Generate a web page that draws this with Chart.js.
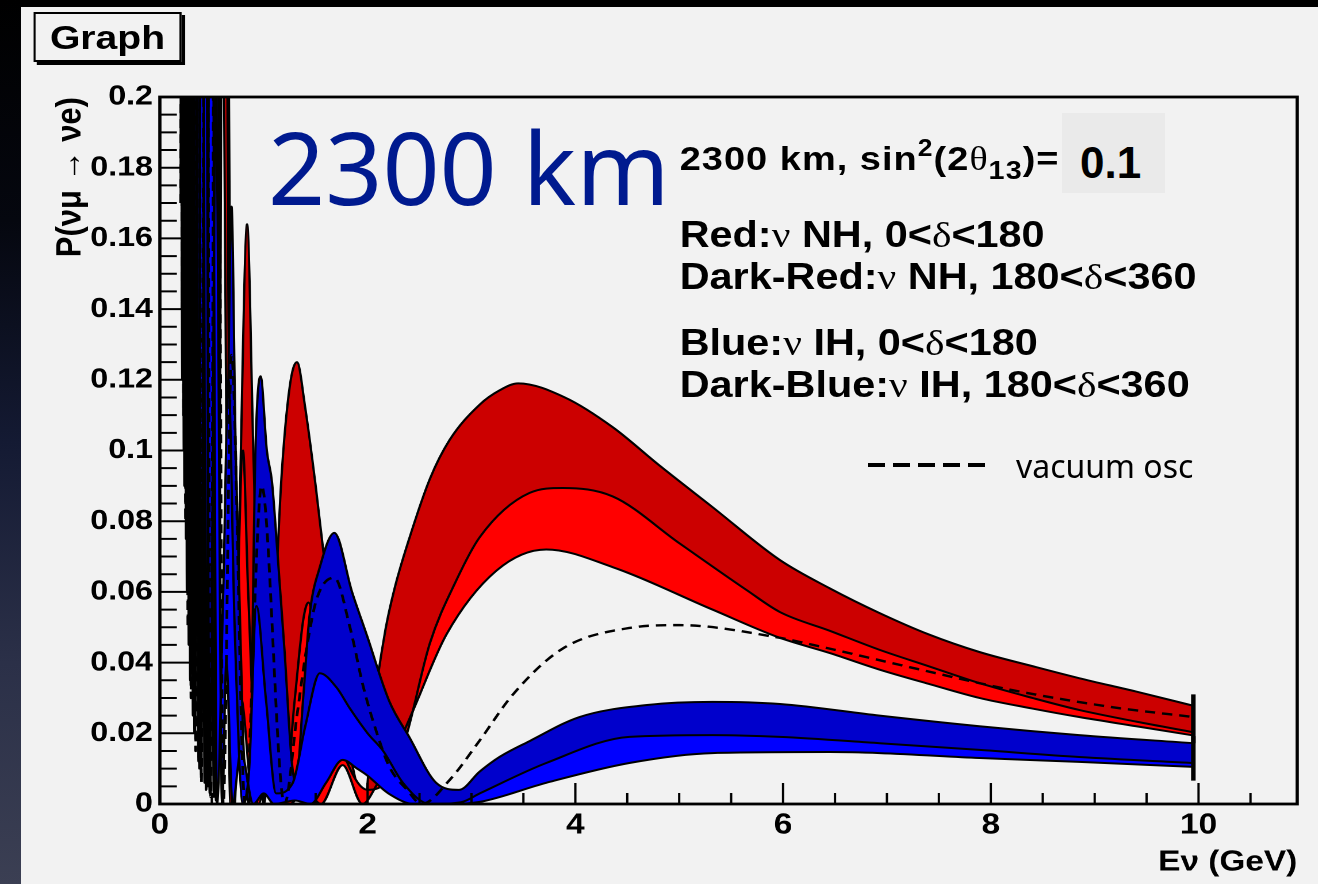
<!DOCTYPE html>
<html>
<head>
<meta charset="utf-8">
<title>Graph</title>
<script src="https://cdn.jsdelivr.net/npm/chart.js@4.4.1/dist/chart.umd.min.js"></script>
<style>
  html, body { margin: 0; padding: 0; }
  body { width: 1318px; height: 884px; overflow: hidden; background: #000; position: relative; }
  #side { position: absolute; left: 0; top: 0; width: 22px; height: 884px;
          background: linear-gradient(to bottom, #000 0%, #05070f 25%, #141a33 50%, #2b3048 75%, #3b3f53 100%); }
  #page { position: absolute; left: 21px; top: 7px; width: 1297px; height: 877px; background: #f2f2f2; }
  /* the ROOT canvas was pasted into the slide stretched sideways */
  #wrap { position: absolute; left: 0; top: 0; width: 1146px; height: 884px;
          transform: scaleX(1.15); transform-origin: 0 0; }
  #chart { position: absolute; left: 0; top: 0; }
  .root { position: absolute; white-space: nowrap; line-height: 1; color: #000;
          font-family: 'Liberation Sans', Arial, Helvetica, sans-serif; font-weight: bold; }
  .sym { font-family: 'Liberation Serif', 'Times New Roman', serif; font-weight: normal; }
  .up { position: relative; top: -14px; font-size: 23px; }
  .dn { position: relative; top: 9px; font-size: 25px; }
  #gbox { position: absolute; left: 29px; top: 12px; width: 125px; height: 46px;
          border: 2px solid #000; background: #f2f2f2; box-shadow: 3px 3px 0 #000;
          text-align: center; }
  #gbox span { display: inline-block; margin-top: 6px; font-size: 34px; }
  #valbox { position: absolute; left: 1062px; top: 113px; width: 103px; height: 80px; background: #eaeaea; }
  #big { position: absolute; left: 268px; top: 116px; font-family: 'Noto Sans', 'Open Sans', sans-serif;
         font-size: 100px; line-height: 1; color: #001a8f; white-space: nowrap; }
  #vdash { position: absolute; left: 868px; top: 463px; width: 117px; height: 4px;
           background: repeating-linear-gradient(90deg, #000 0 17px, transparent 17px 25px); }
  #vtext { position: absolute; left: 1016px; top: 450px; font-family: 'Noto Sans', 'Open Sans', sans-serif;
           font-size: 32px; line-height: 1; color: #000; white-space: nowrap; }
</style>
</head>
<body>
<div id="side"></div>
<div id="page"></div>
<div id="wrap">
  <canvas id="chart" width="1146" height="884"></canvas>
  <div id="gbox" class="root"><span>Graph</span></div>
  <div class="root" style="left:591px;top:142px;font-size:33px;letter-spacing:0.9px;">2300 km, sin<span class="up">2</span>(2<span class="sym">&theta;</span><span class="dn">13</span>)=</div>
  <div class="root" style="left:591px;top:217px;font-size:36px;">Red:<span class="sym">&nu;</span> NH, 0&lt;<span class="sym">&delta;</span>&lt;180</div>
  <div class="root" style="left:591px;top:259px;font-size:36px;">Dark-Red:<span class="sym">&nu;</span> NH, 180&lt;<span class="sym">&delta;</span>&lt;360</div>
  <div class="root" style="left:591px;top:325px;font-size:36px;">Blue:<span class="sym">&nu;</span> IH, 0&lt;<span class="sym">&delta;</span>&lt;180</div>
  <div class="root" style="left:591px;top:367px;font-size:36px;">Dark-Blue:<span class="sym">&nu;</span> IH, 180&lt;<span class="sym">&delta;</span>&lt;360</div>
</div>
<div id="valbox"></div>
<div class="root" style="left:1080px;top:141px;font-size:44px;">0.1</div>
<div id="big">2300 km</div>
<div id="vdash"></div>
<div id="vtext">vacuum osc</div>

<script>
// Values: neutrino energy E (GeV) and P(numu -> nue)
// Normal hierarchy band edges (upper edge of dark red, red/dark-red border, lower edge of red)
const nhTopE = [0.200, 0.206, 0.212, 0.218, 0.225, 0.232, 0.240, 0.250, 0.260, 0.272,
                0.285, 0.300, 0.320, 0.340, 0.360, 0.390, 0.420, 0.460, 0.500, 0.555,
                0.620, 0.720, 0.780, 0.840, 0.900, 1.000, 1.100, 1.170, 1.250, 1.320,
                1.400, 1.500, 1.600, 1.700, 1.800, 1.900, 1.970, 2.050, 2.170, 2.260,
                2.400, 2.600, 2.790, 3.080, 3.270, 3.450, 3.900, 4.360, 4.800, 5.320,
                5.970, 6.450, 6.930, 7.400, 7.890, 8.400, 8.850, 9.400, 9.950];
const nhTopP = [0.40, 0.19, 0.40, 0.16, 0.40, 0.13, 0.40, 0.10, 0.40, 0.07,
                0.40, 0.045, 0.40, 0.025, 0.40, 0.012, 0.40, 0.005, 0.40, 0.002,
                0.35, 0.0, 0.10, 0.164, 0.10, 0.0, 0.05, 0.092, 0.118, 0.125,
                0.112, 0.09, 0.065, 0.042, 0.02, 0.005, 0.0, 0.025, 0.049, 0.061,
                0.075, 0.092, 0.103, 0.113, 0.117, 0.119, 0.115, 0.1066, 0.096, 0.084,
                0.069, 0.061, 0.054, 0.048, 0.043, 0.039, 0.0356, 0.0318, 0.0278];

const nhMidE = [0.200, 0.207, 0.213, 0.220, 0.228, 0.236, 0.245, 0.256, 0.267, 0.280,
                0.295, 0.312, 0.333, 0.355, 0.380, 0.410, 0.445, 0.485, 0.540, 0.600,
                0.700, 0.750, 0.800, 0.850, 0.950, 1.050, 1.200, 1.300, 1.380, 1.430,
                1.500, 1.620, 1.800, 2.000, 2.200, 2.360, 2.600, 2.850, 3.080, 3.560,
                3.880, 4.360, 5.000, 5.650, 5.970, 6.450, 6.930, 7.400, 7.890, 8.400,
                8.850, 9.400, 9.950];
const nhMidP = [0.17, 0.40, 0.15, 0.40, 0.12, 0.40, 0.09, 0.40, 0.06, 0.40,
                0.035, 0.40, 0.02, 0.40, 0.01, 0.40, 0.004, 0.40, 0.001, 0.40,
                0.0, 0.06, 0.10, 0.06, 0.0, 0.012, 0.002, 0.03, 0.052, 0.057,
                0.048, 0.03, 0.012, 0.004, 0.007, 0.018, 0.0455, 0.063, 0.0755, 0.088,
                0.0894, 0.087, 0.0738, 0.0605, 0.0543, 0.049, 0.0436, 0.039, 0.0342, 0.030,
                0.0266, 0.0233, 0.0203];

const nhBotE = [0.200, 0.204, 0.210, 0.217, 0.225, 0.233, 0.242, 0.252, 0.263, 0.275,
                0.290, 0.305, 0.325, 0.345, 0.370, 0.400, 0.430, 0.470, 0.520, 0.580,
                0.680, 0.780, 0.900, 1.000, 1.100, 1.250, 1.400, 1.550, 1.760, 1.950,
                2.100, 2.250, 2.440, 2.760, 3.240, 3.720, 4.360, 5.320, 5.970, 6.450,
                6.930, 7.400, 7.890, 8.400, 8.850, 9.400, 9.950];
const nhBotP = [0.30, 0.40, 0.17, 0.40, 0.14, 0.40, 0.11, 0.40, 0.08, 0.40,
                0.05, 0.40, 0.03, 0.40, 0.015, 0.40, 0.006, 0.40, 0.002, 0.30,
                0.0, 0.03, 0.0, 0.006, 0.0, 0.0, 0.004, 0.0, 0.011, 0.0,
                0.006, 0.014, 0.0266, 0.048, 0.066, 0.072, 0.067, 0.055, 0.047, 0.0427,
                0.038, 0.034, 0.030, 0.027, 0.0246, 0.022, 0.0194];

// Inverted hierarchy band edges
const ihTopE = [0.200, 0.210, 0.217, 0.225, 0.235, 0.245, 0.258, 0.270, 0.290, 0.310,
                0.335, 0.360, 0.390, 0.430, 0.470, 0.530, 0.600, 0.650, 0.690, 0.730,
                0.800, 0.860, 0.920, 0.970, 1.030, 1.080, 1.130, 1.200, 1.270, 1.310,
                1.380, 1.440, 1.540, 1.680, 1.850, 1.990, 2.210, 2.400, 2.660, 2.880,
                3.080, 3.270, 3.560, 4.040, 4.690, 5.320, 5.970, 6.930, 7.890, 8.850,
                9.950];
const ihTopP = [0.40, 0.40, 0.16, 0.40, 0.12, 0.40, 0.085, 0.40, 0.055, 0.40,
                0.03, 0.40, 0.014, 0.40, 0.005, 0.40, 0.0, 0.10, 0.169, 0.10,
                0.02, 0.0, 0.10, 0.121, 0.10, 0.091, 0.072, 0.0435, 0.012, 0.006,
                0.03, 0.053, 0.067, 0.0767, 0.06, 0.048, 0.029, 0.019, 0.006, 0.004,
                0.0092, 0.0133, 0.0178, 0.0246, 0.028, 0.0289, 0.0283, 0.025, 0.022, 0.0195,
                0.0172];

const ihMidE = [0.200, 0.213, 0.221, 0.230, 0.240, 0.251, 0.264, 0.278, 0.298, 0.318,
                0.345, 0.372, 0.405, 0.445, 0.490, 0.550, 0.610, 0.660, 0.720, 0.800,
                0.860, 0.930, 1.020, 1.120, 1.280, 1.400, 1.540, 1.700, 1.830, 2.000,
                2.150, 2.340, 2.600, 2.900, 3.080, 3.720, 4.520, 5.320, 5.970, 6.930,
                7.890, 8.850, 9.950];
const ihMidP = [0.40, 0.14, 0.40, 0.10, 0.40, 0.075, 0.40, 0.045, 0.40, 0.025,
                0.40, 0.012, 0.40, 0.004, 0.35, 0.0, 0.06, 0.12, 0.05, 0.0,
                0.01, 0.056, 0.03, 0.003, 0.006, 0.022, 0.037, 0.033, 0.027, 0.02,
                0.015, 0.006, 0.0, 0.0005, 0.003, 0.0116, 0.019, 0.0195, 0.019, 0.0172,
                0.0153, 0.0133, 0.0116];

const ihBotE = [0.200, 0.216, 0.226, 0.236, 0.247, 0.260, 0.274, 0.292, 0.312, 0.338,
                0.366, 0.398, 0.438, 0.480, 0.540, 0.600, 0.640, 0.700, 0.780, 0.900,
                1.000, 1.100, 1.300, 1.450, 1.600, 1.760, 1.900, 2.000, 2.200, 2.450,
                2.800, 3.080, 3.720, 4.520, 5.320, 6.450, 6.930, 7.890, 8.850, 9.950];
const ihBotP = [0.40, 0.12, 0.40, 0.09, 0.40, 0.06, 0.40, 0.035, 0.40, 0.02,
                0.40, 0.008, 0.30, 0.003, 0.20, 0.0, 0.04, 0.0, 0.015, 0.0,
                0.003, 0.0, 0.001, 0.0, 0.006, 0.0125, 0.01, 0.008, 0.003, 0.0,
                0.0, 0.0006, 0.006, 0.0116, 0.0144, 0.0147, 0.0144, 0.013, 0.0119, 0.0105];

// Vacuum oscillation (dashed)
const vacE = [0.200, 0.207, 0.213, 0.220, 0.228, 0.237, 0.247, 0.258, 0.270, 0.285,
              0.300, 0.320, 0.345, 0.370, 0.400, 0.440, 0.490, 0.540, 0.610, 0.690,
              0.820, 0.980, 1.200, 1.320, 1.410, 1.510, 1.680, 1.830, 1.960, 2.090,
              2.210, 2.380, 2.520, 2.790, 3.080, 3.400, 3.880, 4.520, 5.000, 5.970,
              6.290, 7.250, 8.210, 9.170, 9.950];
const vacP = [0.17, 0.40, 0.14, 0.40, 0.11, 0.40, 0.08, 0.40, 0.05, 0.40,
              0.03, 0.40, 0.015, 0.40, 0.006, 0.40, 0.002, 0.40, 0.0, 0.127,
              0.0, 0.09, 0.0, 0.025, 0.0435, 0.058, 0.064, 0.05, 0.033, 0.02,
              0.0105, 0.004, 0.0, 0.0068, 0.018, 0.031, 0.044, 0.0498, 0.0506, 0.047,
              0.045, 0.0385, 0.0322, 0.0274, 0.0246];

// closing edges of the two bands at the last energy point
const endE = [9.95, 9.95];
const nhEndP = [0.0310, 0.0172];
const ihEndP = [0.0192, 0.0066];

function curve(es, ps) {
    return es.map((e, i) => ({ x: e, y: ps[i] }));
}

function edge(es, ps, fillTo, color, order) {
    return {
        data: curve(es, ps),
        showLine: true,
        fill: fillTo,
        backgroundColor: color,
        borderColor: '#000',
        borderWidth: 2,
        pointRadius: 0,
        cubicInterpolationMode: 'monotone',
        order: order
    };
}

// frame and inward ROOT-style tick marks
const frameTicks = {
    id: 'frameTicks',
    afterDatasetsDraw(chart) {
        const { ctx, chartArea: a, scales: { x, y } } = chart;
        ctx.save();
        ctx.strokeStyle = '#000';
        ctx.lineWidth = 2;
        ctx.beginPath();
        for (let i = 0; i * 0.5 <= x.max; i++) {
            const px = x.getPixelForValue(i * 0.5);
            const len = (i % 4 === 0) ? 21 : 11;
            ctx.moveTo(px, a.bottom);
            ctx.lineTo(px, a.bottom - len);
        }
        for (let i = 0; i * 0.005 <= y.max + 1e-9; i++) {
            const py = y.getPixelForValue(i * 0.005);
            const len = (i % 4 === 0) ? 29.5 : 14.8;
            ctx.moveTo(a.left, py);
            ctx.lineTo(a.left + len, py);
        }
        ctx.stroke();
        ctx.lineWidth = 2.8;
        ctx.strokeRect(a.left, a.top, a.right - a.left, a.bottom - a.top);
        ctx.restore();
    }
};

Chart.defaults.font.family = "'Liberation Sans', Arial, Helvetica, sans-serif";
Chart.defaults.color = '#000';

const chart = new Chart(document.getElementById('chart'), {
    type: 'scatter',
    data: {
        datasets: [
            edge(nhTopE, nhTopP, 1, '#cc0000', 10),
            edge(nhMidE, nhMidP, 2, '#ff0000', 9),
            edge(nhBotE, nhBotP, false, '#ff0000', 8),
            edge(ihTopE, ihTopP, 4, '#0000cc', 7),
            edge(ihMidE, ihMidP, 5, '#0000ff', 6),
            edge(ihBotE, ihBotP, false, '#0000ff', 5),
            {
                data: curve(vacE, vacP),
                showLine: true,
                fill: false,
                borderColor: '#000',
                borderWidth: 2.4,
                borderDash: [9, 6],
                pointRadius: 0,
                cubicInterpolationMode: 'monotone',
                order: 4
            },
            { data: curve(endE, nhEndP), showLine: true, fill: false, borderColor: '#000', borderWidth: 4, pointRadius: 0, order: 3 },
            { data: curve(endE, ihEndP), showLine: true, fill: false, borderColor: '#000', borderWidth: 4, pointRadius: 0, order: 3 }
        ]
    },
    options: {
        responsive: false,
        animation: false,
        devicePixelRatio: 2,
        layout: { padding: { left: 10, right: 18, top: 97, bottom: 0 } },
        plugins: {
            legend: { display: false },
            tooltip: { enabled: false }
        },
        scales: {
            x: {
                type: 'linear',
                position: 'bottom',
                min: 0,
                max: 10.95,
                afterFit: (s) => { s.height = 80; },
                grid: { display: false, drawTicks: false },
                border: { display: false },
                ticks: {
                    stepSize: 2,
                    includeBounds: false,
                    padding: 4,
                    maxRotation: 0,
                    font: { size: 29, weight: 'bold' }
                },
                title: {
                    display: true,
                    text: 'E\u03BD (GeV)',
                    align: 'end',
                    font: { size: 29, weight: 'bold' },
                    padding: { top: 0, bottom: 4 }
                }
            },
            y: {
                type: 'linear',
                min: 0,
                max: 0.2,
                afterFit: (s) => { s.width = 129; },
                grid: { display: false, drawTicks: false },
                border: { display: false },
                ticks: {
                    stepSize: 0.02,
                    padding: 6,
                    font: { size: 28, weight: 'bold' },
                    callback: (v) => String(+v.toFixed(2))
                },
                title: {
                    display: true,
                    text: 'P(\u03BD\u03BC \u2192 \u03BDe)',
                    align: 'end',
                    font: { size: 31, weight: 'bold' },
                    padding: { top: 33, bottom: 0 }
                }
            }
        }
    },
    plugins: [frameTicks]
});
</script>
</body>
</html>
